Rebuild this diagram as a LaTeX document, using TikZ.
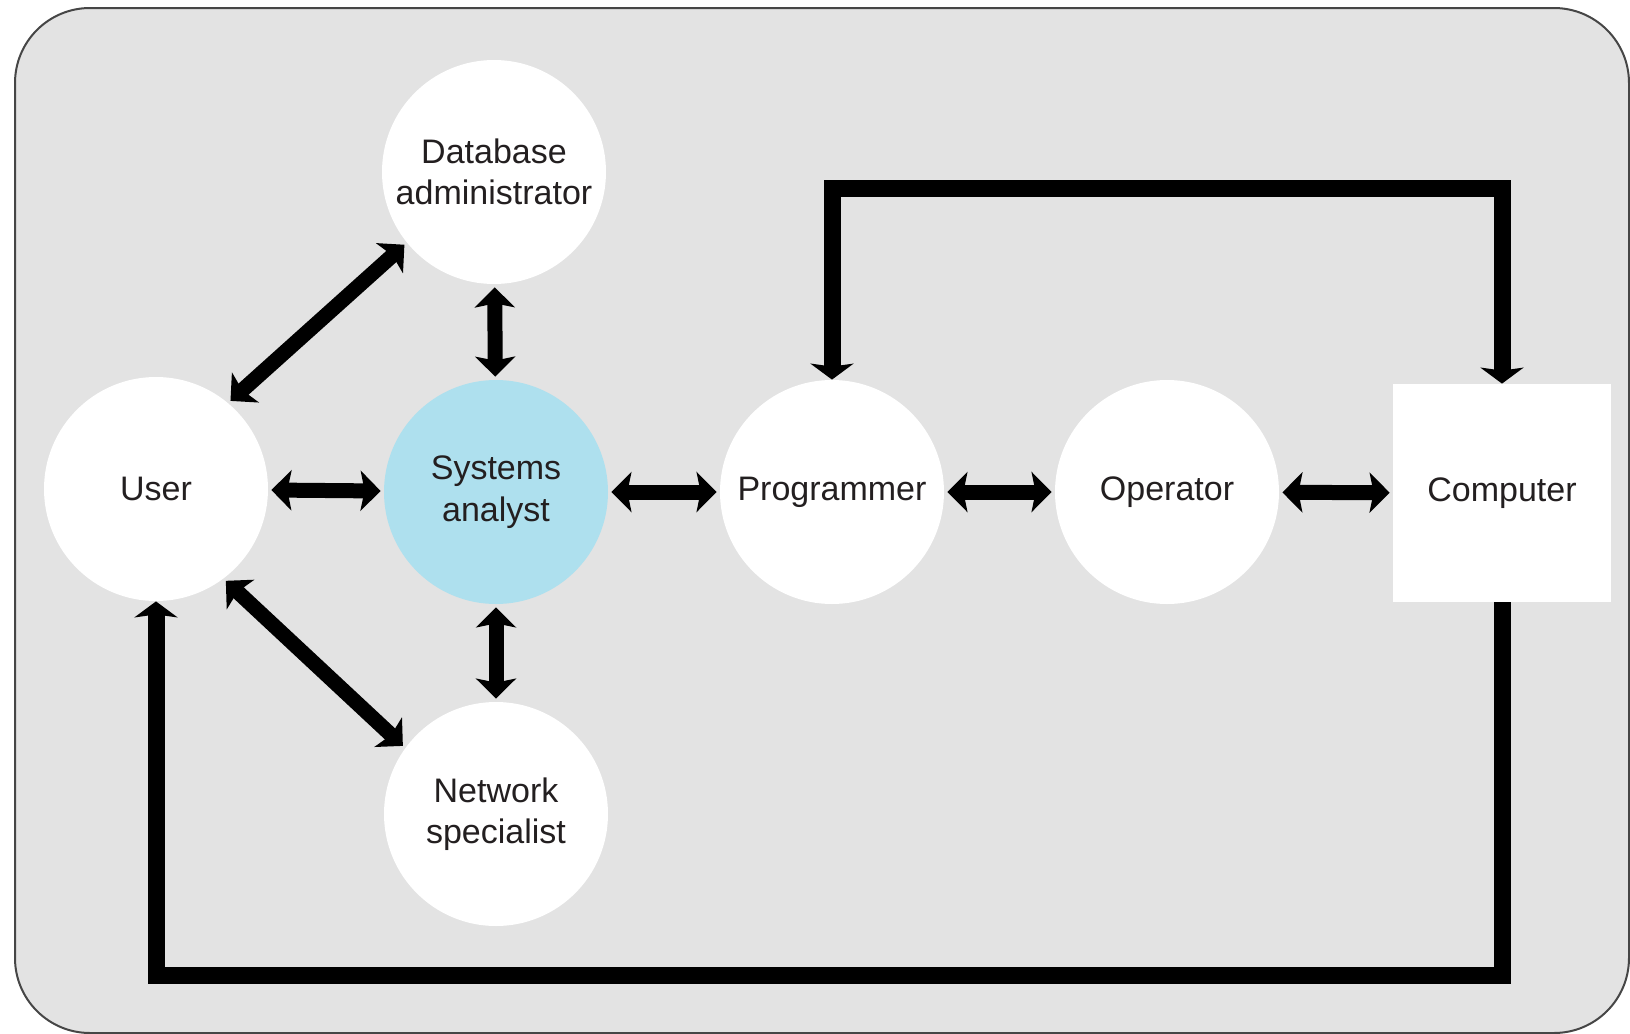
\documentclass[tikz,border=0pt]{standalone}
\usepackage{fontspec}
\setmainfont{Liberation Sans}
\usetikzlibrary{arrows.meta,positioning}
\definecolor{panelgrey}{RGB}{227,227,227}
\definecolor{frameline}{RGB}{70,70,70}
\definecolor{analystblue}{RGB}{174,224,238}
\definecolor{labeltext}{RGB}{35,31,32}
\tikzset{
  rnode/.style={circle, fill=white, minimum size=112pt, inner sep=0pt, align=center,
                font=\fontsize{17}{20.8}\selectfont, text=labeltext},
  rhub/.style ={rnode, fill=analystblue},
  rbox/.style ={rnode, rectangle, minimum size=109pt},
  rlink/.style={<->, >={Stealth[length=10pt, width=20pt, inset=2pt]},
                line width=7.5pt, shorten <=1.5pt, shorten >=1.5pt},
  rloop/.style={line width=8.5pt, >={Stealth[length=8pt, width=21.5pt, inset=1.5pt]}},
  rpanel/.style={draw=frameline, line width=1pt, fill=panelgrey, rounded corners=37.5pt},
}
\begin{document}
\begin{tikzpicture}[x=0.5pt, y=-0.5pt]
  \useasboundingbox (0,0) rectangle (1630,1034);
  \draw[rpanel] (15,8) rectangle (1629,1033);
  \node[rnode] (user) at (156,489) {User};
  \node[rhub]  (sa)   at (496,492) {Systems\\analyst};
  \node[rnode] (dba)  at (494,172) {Database\\administrator};
  \node[rnode] (net)  at (496,814) {Network\\specialist};
  \node[rnode] (prog) at (832,492) {Programmer};
  \node[rnode] (op)   at (1167,492) {Operator};
  \node[rbox]  (comp) at (1502,493) {Computer};
  \coordinate (ktop) at (0,188);
  \coordinate (kbot) at (0,975);
  \draw[rlink] (user) -- (sa);
  \draw[rlink] (user.50) -- (dba.219);
  \draw[rlink] (user.307) -- (net.144);
  \draw[rlink] (dba) -- (sa);
  \draw[rlink] (sa) -- (net);
  \draw[rlink] (sa) -- (prog);
  \draw[rlink] (prog) -- (op);
  \draw[rlink] (op) -- (comp);
  \draw[rloop, <->] (prog.north) -- (prog.north |- ktop) -| (comp.north);
  \draw[rloop, ->] (comp.south) -- (comp.south |- kbot) -| (user.south);
\end{tikzpicture}
\end{document}
